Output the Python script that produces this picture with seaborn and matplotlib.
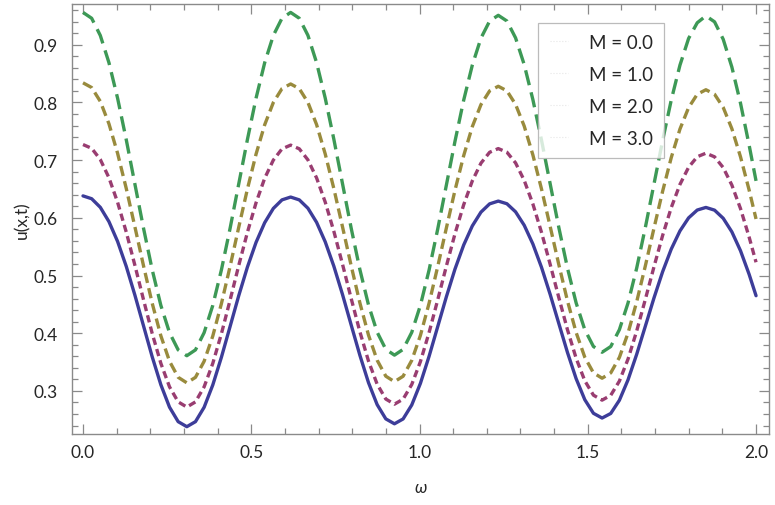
import matplotlib
matplotlib.use("Agg")
import matplotlib.pyplot as plt
from matplotlib.lines import Line2D
from matplotlib.ticker import MultipleLocator
import seaborn as sns

# sample positions along omega
omega = [0.0, 0.0257, 0.0514, 0.0771, 0.1028, 0.1285, 0.1542, 0.1800, 0.2057, 0.2314,
         0.2571, 0.2828, 0.3085, 0.3342, 0.3599, 0.3856, 0.4113, 0.4370, 0.4627, 0.4885,
         0.5142, 0.5399, 0.5656, 0.5913, 0.6170, 0.6427, 0.6684, 0.6941, 0.7198, 0.7455,
         0.7712, 0.7969, 0.8227, 0.8484, 0.8741, 0.8998, 0.9255, 0.9512, 0.9769, 1.0026,
         1.0283, 1.0540, 1.0797, 1.1054, 1.1312, 1.1569, 1.1826, 1.2083, 1.2340, 1.2597,
         1.2854, 1.3111, 1.3368, 1.3625, 1.3882, 1.4139, 1.4396, 1.4654, 1.4911, 1.5168,
         1.5425, 1.5682, 1.5939, 1.6196, 1.6453, 1.6710, 1.6967, 1.7224, 1.7481, 1.7739,
         1.7996, 1.8253, 1.8510, 1.8767, 1.9024, 1.9281, 1.9538, 1.9795, 2.0]

# u(x,t) for M = 0
u_m0 = [0.638, 0.6331, 0.6182, 0.5934, 0.5590, 0.5159, 0.4660, 0.4124, 0.3590, 0.3106,
        0.2718, 0.2467, 0.238, 0.2467, 0.2716, 0.3102, 0.3584, 0.4115, 0.4649, 0.5145,
        0.5574, 0.5916, 0.6163, 0.6311, 0.636, 0.6311, 0.6166, 0.5922, 0.5584, 0.5160,
        0.4670, 0.4143, 0.3619, 0.3143, 0.2762, 0.2515, 0.243, 0.2514, 0.2756, 0.3130,
        0.3598, 0.4113, 0.4630, 0.5112, 0.5528, 0.5860, 0.6099, 0.6242, 0.629, 0.6244,
        0.6104, 0.5871, 0.5547, 0.5142, 0.4673, 0.4169, 0.3667, 0.3212, 0.2848, 0.2612,
        0.253, 0.2609, 0.2838, 0.3192, 0.3634, 0.4121, 0.4611, 0.5066, 0.5459, 0.5773,
        0.5999, 0.6135, 0.618, 0.6133, 0.5992, 0.5757, 0.5430, 0.5020, 0.465]

# M = 1
u_m1 = [0.727, 0.7205, 0.7011, 0.6695, 0.6269, 0.5754, 0.5177, 0.4576, 0.3994, 0.3477,
        0.3070, 0.2810, 0.272, 0.2810, 0.3070, 0.3476, 0.3991, 0.4572, 0.5172, 0.5747,
        0.6261, 0.6686, 0.7001, 0.7195, 0.726, 0.7196, 0.7004, 0.6692, 0.6272, 0.5764,
        0.5195, 0.4602, 0.4027, 0.3517, 0.3116, 0.2859, 0.277, 0.2857, 0.3111, 0.3507,
        0.4010, 0.4577, 0.5162, 0.5724, 0.6226, 0.6640, 0.6948, 0.7136, 0.720, 0.7137,
        0.6952, 0.6649, 0.6241, 0.5747, 0.5194, 0.4619, 0.4061, 0.3566, 0.3176, 0.2926,
        0.284, 0.2924, 0.3170, 0.3552, 0.4038, 0.4586, 0.5151, 0.5694, 0.6178, 0.6579,
        0.6876, 0.7059, 0.712, 0.7057, 0.6871, 0.6568, 0.6160, 0.5665, 0.523]

# M = 2
u_m2 = [0.834, 0.8258, 0.8018, 0.7630, 0.7118, 0.6510, 0.5844, 0.5164, 0.4518, 0.3954,
        0.3514, 0.3236, 0.314, 0.3235, 0.3513, 0.3950, 0.4513, 0.5156, 0.5834, 0.6497,
        0.7103, 0.7613, 0.7999, 0.8239, 0.832, 0.8239, 0.8000, 0.7616, 0.7107, 0.6504,
        0.5843, 0.5169, 0.4527, 0.3967, 0.3532, 0.3255, 0.316, 0.3254, 0.3529, 0.3961,
        0.4517, 0.5153, 0.5822, 0.6478, 0.7077, 0.7581, 0.7963, 0.8200, 0.828, 0.8201,
        0.7966, 0.7590, 0.7091, 0.6499, 0.5851, 0.5190, 0.4561, 0.4012, 0.3584, 0.3313,
        0.322, 0.3312, 0.3580, 0.4002, 0.4545, 0.5166, 0.5820, 0.6460, 0.7045, 0.7538,
        0.7910, 0.8142, 0.822, 0.8142, 0.7914, 0.7545, 0.7058, 0.6480, 0.598]

# M = 3
u_m3 = [0.956, 0.9459, 0.9161, 0.8689, 0.8073, 0.7355, 0.6585, 0.5815, 0.5098, 0.4481,
        0.4009, 0.3711, 0.361, 0.3711, 0.4009, 0.4481, 0.5098, 0.5815, 0.6585, 0.7355,
        0.8073, 0.8689, 0.9161, 0.9459, 0.956, 0.9459, 0.9162, 0.8690, 0.8075, 0.7359,
        0.6590, 0.5821, 0.5105, 0.4490, 0.4018, 0.3721, 0.362, 0.3720, 0.4015, 0.4483,
        0.5093, 0.5803, 0.6565, 0.7327, 0.8038, 0.8647, 0.9115, 0.9410, 0.951, 0.9411,
        0.9119, 0.8655, 0.8050, 0.7346, 0.6590, 0.5834, 0.5130, 0.4525, 0.4061, 0.3770,
        0.367, 0.3769, 0.4061, 0.4524, 0.5128, 0.5831, 0.6585, 0.7340, 0.8043, 0.8646,
        0.9109, 0.9381, 0.950, 0.9397, 0.9095, 0.8614, 0.7988, 0.7258, 0.664]

labels = ["M = 0.0", "M = 1.0", "M = 2.0", "M = 3.0"]
series = [u_m0, u_m1, u_m2, u_m3]

# mathematica-ish default plot colours
colors = ["#3d3d99", "#993d71", "#998b3d", "#3d9956"]
styles = ["-", (0, (2.2, 1.3)), (0, (3.1, 1.6)), (0, (4.6, 2.2))]

sns.set_style("ticks")
plt.rcParams["font.family"] = ["Lato", "DejaVu Sans"]

fig = plt.figure(figsize=(7.75, 5.06), dpi=100)
ax = fig.add_axes([0.0929, 0.1403, 0.8994, 0.8497])

for vals, c, ls in zip(series, colors, styles):
    sns.lineplot(x=omega, y=vals, ax=ax, color=c, linewidth=2.4, linestyle=ls,
                 solid_joinstyle="round", dash_joinstyle="round",
                 solid_capstyle="round", dash_capstyle="butt")

ax.set_xlim(-0.0327, 2.0386)
ax.set_ylim(0.2253, 0.9705)

ax.xaxis.set_major_locator(MultipleLocator(0.5))
ax.xaxis.set_minor_locator(MultipleLocator(0.1))
ax.yaxis.set_major_locator(MultipleLocator(0.1))
ax.yaxis.set_minor_locator(MultipleLocator(0.02))
ax.xaxis.set_major_formatter(plt.FuncFormatter(lambda v, p: f"{v:.1f}"))
ax.yaxis.set_major_formatter(plt.FuncFormatter(lambda v, p: f"{v:.1f}"))

ax.tick_params(which="both", direction="in", top=True, right=True,
               color="#8a8a8a", labelsize=12.5, width=0.9)
ax.tick_params(which="major", length=7)
ax.tick_params(which="minor", length=4)
ax.tick_params(axis="x", pad=7)
ax.tick_params(axis="y", pad=10)
for sp in ax.spines.values():
    sp.set_color("#8a8a8a")
    sp.set_linewidth(1.0)

ax.set_xlabel("ω", fontsize=12.5, style="italic", labelpad=14)
ax.set_ylabel("u(x,t)", fontsize=12.5)
ax.yaxis.set_label_coords(-0.06, 0.5)

# legend: the reference has almost invisible line samples
handles = [Line2D([], [], color="#e6e6e6", lw=0.8, linestyle=":") for _ in labels]
leg = ax.legend(handles, labels, loc="upper left", bbox_to_anchor=(0.669, 0.957),
                fontsize=13.5, frameon=True, fancybox=False, edgecolor="#aaaaaa",
                handlelength=1.0, handletextpad=1.1, labelspacing=0.8,
                borderpad=0.6, borderaxespad=0)
leg.get_frame().set_linewidth(0.9)

fig.savefig("out.png", dpi=100)
